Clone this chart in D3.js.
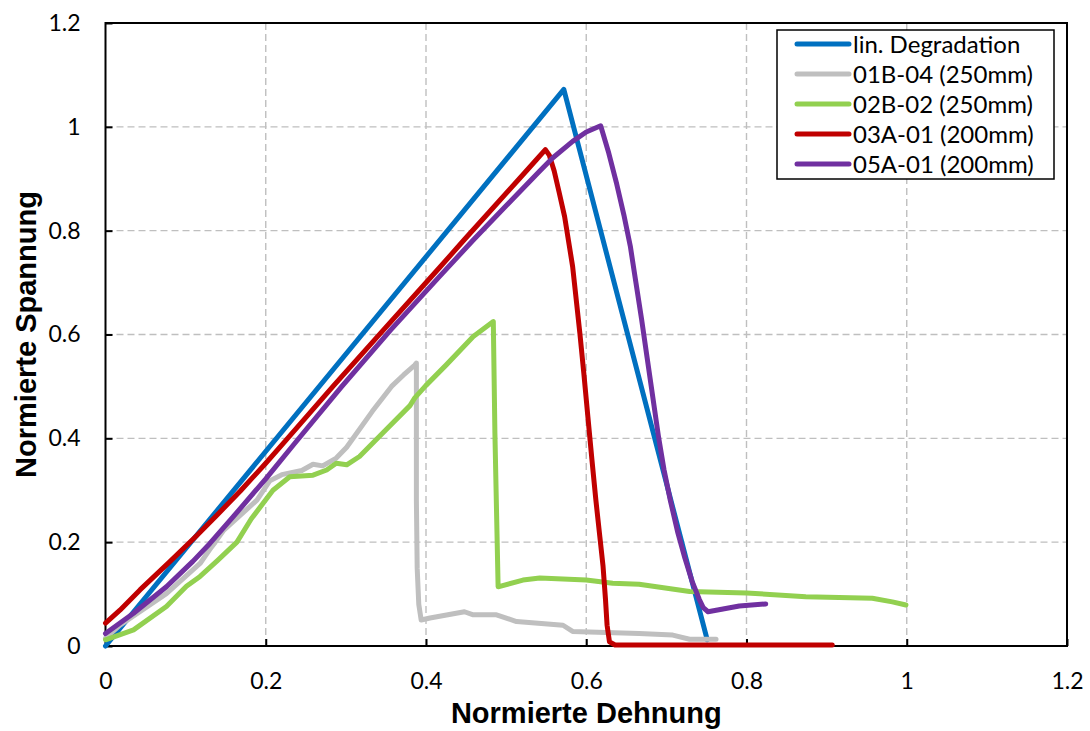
<!DOCTYPE html>
<html>
<head>
<meta charset="utf-8">
<script src="https://cdn.jsdelivr.net/npm/d3@7"></script>
<style>
  body { margin: 0; background: #fff; }
  svg text { font-family: Lato, "Open Sans", sans-serif; }
</style>
</head>
<body>
<svg width="1090" height="731"></svg>
<script>
// series as [dehnung, spannung]
var linDegradation = [[0, 0], [0.572, 1.072], [0.751, 0.012]];

var s01B04 = [[0, 0.015], [0.018, 0.04], [0.076, 0.101], [0.118, 0.159], [0.132, 0.19], [0.137, 0.2],
  [0.147, 0.222], [0.189, 0.281], [0.205, 0.318], [0.22, 0.33], [0.245, 0.338], [0.259, 0.35],
  [0.271, 0.347], [0.288, 0.362], [0.301, 0.383], [0.309, 0.4], [0.333, 0.452], [0.357, 0.5],
  [0.372, 0.522], [0.386, 0.541], [0.388, 0.545], [0.388, 0.281], [0.389, 0.15], [0.391, 0.08],
  [0.394, 0.05], [0.405, 0.054], [0.448, 0.066], [0.459, 0.06], [0.488, 0.06], [0.513, 0.047],
  [0.571, 0.04], [0.583, 0.028], [0.666, 0.024], [0.708, 0.021], [0.729, 0.013], [0.762, 0.013]];

var s02B02 = [[0, 0.012], [0.035, 0.031], [0.076, 0.076], [0.101, 0.115], [0.118, 0.134], [0.14, 0.165],
  [0.164, 0.2], [0.182, 0.245], [0.209, 0.3], [0.23, 0.326], [0.259, 0.329], [0.276, 0.339],
  [0.288, 0.352], [0.301, 0.349], [0.317, 0.365], [0.351, 0.418], [0.38, 0.463], [0.386, 0.478],
  [0.4, 0.502], [0.425, 0.541], [0.459, 0.596], [0.484, 0.625], [0.486, 0.41], [0.49, 0.114],
  [0.521, 0.127], [0.542, 0.131], [0.6, 0.127], [0.633, 0.121], [0.666, 0.119], [0.729, 0.105],
  [0.8, 0.102], [0.874, 0.095], [0.957, 0.092], [0.982, 0.085], [0.999, 0.079]];

var s03A01 = [[0, 0.044], [0.018, 0.069], [0.043, 0.108], [0.08, 0.162], [0.114, 0.213], [0.139, 0.252],
  [0.168, 0.298], [0.2, 0.352], [0.224, 0.394], [0.285, 0.502], [0.347, 0.609], [0.417, 0.729],
  [0.448, 0.783], [0.479, 0.836], [0.517, 0.901], [0.538, 0.937], [0.549, 0.956], [0.554, 0.945],
  [0.56, 0.915], [0.566, 0.875], [0.573, 0.827], [0.583, 0.731], [0.592, 0.603], [0.597, 0.525],
  [0.602, 0.442], [0.607, 0.36], [0.612, 0.281], [0.617, 0.21], [0.621, 0.153], [0.624, 0.09],
  [0.626, 0.04], [0.629, 0.008], [0.636, 0.002], [0.907, 0.002]];

var s05A01 = [[0, 0.024], [0.035, 0.063], [0.076, 0.114], [0.109, 0.163], [0.13, 0.197], [0.16, 0.25],
  [0.2, 0.322], [0.236, 0.39], [0.295, 0.5], [0.356, 0.609], [0.417, 0.712], [0.459, 0.782],
  [0.5, 0.848], [0.542, 0.915], [0.558, 0.94], [0.583, 0.972], [0.6, 0.99], [0.618, 1.002],
  [0.628, 0.95], [0.638, 0.89], [0.647, 0.83], [0.655, 0.77], [0.662, 0.7], [0.669, 0.63],
  [0.676, 0.555], [0.683, 0.48], [0.69, 0.405], [0.697, 0.34], [0.705, 0.28], [0.714, 0.22],
  [0.723, 0.17], [0.732, 0.125], [0.741, 0.09], [0.746, 0.074], [0.752, 0.066], [0.791, 0.077],
  [0.824, 0.081]];

var seriesNames = ["lin. Degradation", "01B-04 (250mm)", "02B-02 (250mm)", "03A-01 (200mm)", "05A-01 (200mm)"];
var seriesColors = ["#0070C0", "#BFBFBF", "#92D050", "#C00000", "#7030A0"];

var xTicks = [0, 0.2, 0.4, 0.6, 0.8, 1, 1.2];
var xTickLabels = ["0", "0.2", "0.4", "0.6", "0.8", "1", "1.2"];
var yTicks = [0, 0.2, 0.4, 0.6, 0.8, 1, 1.2];
var yTickLabels = ["0", "0.2", "0.4", "0.6", "0.8", "1", "1.2"];

window.onload = function(){
  var svg = d3.select("svg");
  var pLeft = 105.5, pRight = 1067, pTop = 23, pBottom = 646;

  var x = d3.scaleLinear().domain([0, 1.2]).range([pLeft, pRight]);
  var y = d3.scaleLinear().domain([0, 1.2]).range([pBottom, pTop]);

  // dashed grid
  svg.append("g").selectAll("line")
    .data(xTicks.filter(function(d){ return d > 0 && d < 1.2; }))
    .enter().append("line")
    .attr("x1", function(d){ return x(d); }).attr("x2", function(d){ return x(d); })
    .attr("y1", pTop).attr("y2", pBottom)
    .attr("stroke", "#BFBFBF").attr("stroke-width", 1.4).attr("stroke-dasharray", "7,4");

  svg.append("g").selectAll("line")
    .data(yTicks.filter(function(d){ return d > 0 && d < 1.2; }))
    .enter().append("line")
    .attr("x1", pLeft).attr("x2", pRight)
    .attr("y1", function(d){ return y(d); }).attr("y2", function(d){ return y(d); })
    .attr("stroke", "#BFBFBF").attr("stroke-width", 1.4).attr("stroke-dasharray", "7,4");

  // axes with inside ticks
  var xAxis = svg.append("g")
    .attr("transform", "translate(0," + pBottom + ")")
    .call(d3.axisBottom(x).tickValues(xTicks).tickSize(-7).tickPadding(27)
      .tickFormat(function(d, i){ return xTickLabels[i]; }));
  var yAxis = svg.append("g")
    .attr("transform", "translate(" + pLeft + ",0)")
    .call(d3.axisLeft(y).tickValues(yTicks).tickSize(-7).tickPadding(25)
      .tickFormat(function(d, i){ return yTickLabels[i]; }));

  [xAxis, yAxis].forEach(function(a){
    a.select(".domain").remove();
    a.selectAll(".tick line").attr("stroke", "#000").attr("stroke-width", 2);
    a.selectAll(".tick text").attr("fill", "#000").style("font-size", "23px")
      .style("font-family", "Lato, 'Open Sans', sans-serif");
  });

  // plot frame
  svg.append("rect")
    .attr("x", pLeft).attr("y", pTop)
    .attr("width", pRight - pLeft).attr("height", pBottom - pTop)
    .attr("fill", "none").attr("stroke", "#000").attr("stroke-width", 2);

  // curves
  var line = d3.line()
    .x(function(d){ return x(d[0]); })
    .y(function(d){ return y(d[1]); });

  var allSeries = [linDegradation, s01B04, s02B02, s03A01, s05A01];

  svg.append("g").selectAll("path")
    .data(allSeries)
    .enter().append("path")
    .attr("d", line)
    .attr("fill", "none")
    .attr("stroke", function(d, i){ return seriesColors[i]; })
    .attr("stroke-width", 5)
    .attr("stroke-linejoin", "round")
    .attr("stroke-linecap", "round");

  // axis titles
  svg.append("text")
    .attr("x", (pLeft + pRight) / 2).attr("y", 723)
    .attr("text-anchor", "middle")
    .style("font-family", "'Liberation Sans', Arial, sans-serif")
    .style("font-weight", "bold").style("font-size", "29px")
    .text("Normierte Dehnung");

  svg.append("text")
    .attr("transform", "translate(36," + (pTop + pBottom) / 2 + ") rotate(-90)")
    .attr("text-anchor", "middle")
    .style("font-family", "'Liberation Sans', Arial, sans-serif")
    .style("font-weight", "bold").style("font-size", "29px")
    .text("Normierte Spannung");

  // legend
  var legend = svg.append("g");
  legend.append("rect")
    .attr("x", 777).attr("y", 30).attr("width", 277).attr("height", 149)
    .attr("fill", "#fff").attr("stroke", "#000").attr("stroke-width", 1.5);

  var rows = legend.selectAll("g.row")
    .data(seriesNames)
    .enter().append("g")
    .attr("class", "row")
    .attr("transform", function(d, i){ return "translate(0," + (44 + i * 30) + ")"; });

  rows.append("line")
    .attr("x1", 797).attr("x2", 849).attr("y1", 0).attr("y2", 0)
    .attr("stroke", function(d, i){ return seriesColors[i]; })
    .attr("stroke-width", 5).attr("stroke-linecap", "round");

  rows.append("text")
    .attr("x", 853).attr("dy", "0.36em")
    .style("font-size", "24px")
    .text(function(d){ return d; });
};
</script>
</body>
</html>
